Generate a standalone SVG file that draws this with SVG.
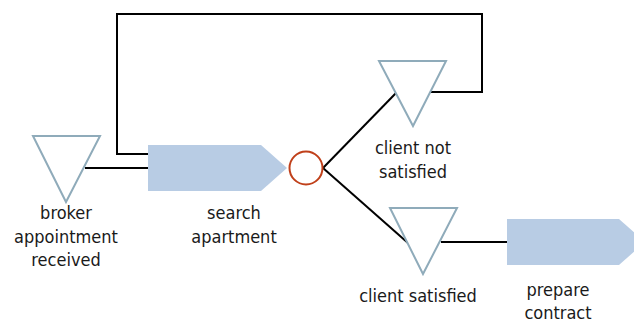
<svg xmlns="http://www.w3.org/2000/svg" width="634" height="320" viewBox="0 0 634 320">
<style>
.ev{fill:#ffffff;stroke:#8fabba;stroke-width:2}
.fn{fill:#b8cce4;stroke:none}
.xor{fill:#ffffff;stroke:#c0401a;stroke-width:2}
.cn{fill:none;stroke:#000000;stroke-width:2}
.lb{font-family:"DejaVu Sans Condensed","DejaVu Sans",Verdana,sans-serif;font-stretch:condensed;font-size:18px;fill:#1a1a1a;text-anchor:middle}
</style>
<rect width="634" height="320" fill="#ffffff"/>
<g id="connectors">
<polyline class="cn" points="148,154 117,154 117,14 482,14 482,92 430,92"/>
<line class="cn" x1="85" y1="168" x2="148" y2="168"/>
<line class="cn" x1="323" y1="168" x2="396" y2="93"/>
<line class="cn" x1="323" y1="168" x2="408" y2="243"/>
<line class="cn" x1="441" y1="242" x2="507" y2="242"/>
</g>
<g id="broker-appointment-received">
<polygon class="ev" points="33,136 100,136 66,202"/>
<text class="lb" x="66" y="219">broker</text>
<text class="lb" x="66" y="243">appointment</text>
<text class="lb" x="66" y="266">received</text>
</g>
<g id="search-apartment">
<polygon class="fn" points="148,145 261,145 287,168 261,191 148,191"/>
<text class="lb" x="234" y="219">search</text>
<text class="lb" x="234" y="243">apartment</text>
</g>
<g id="xor">
<circle class="xor" cx="306" cy="168" r="16.5"/>
</g>
<g id="client-not-satisfied">
<polygon class="ev" points="379,61 446,61 413,126"/>
<text class="lb" x="413" y="154">client not</text>
<text class="lb" x="413" y="178">satisfied</text>
</g>
<g id="client-satisfied">
<polygon class="ev" points="390,208 457,208 423,274"/>
<text class="lb" x="418" y="302">client satisfied</text>
</g>
<g id="prepare-contract">
<polygon class="fn" points="507,219 619,219 645,242 619,265 507,265"/>
<text class="lb" x="558" y="296">prepare</text>
<text class="lb" x="558" y="319">contract</text>
</g>
</svg>
